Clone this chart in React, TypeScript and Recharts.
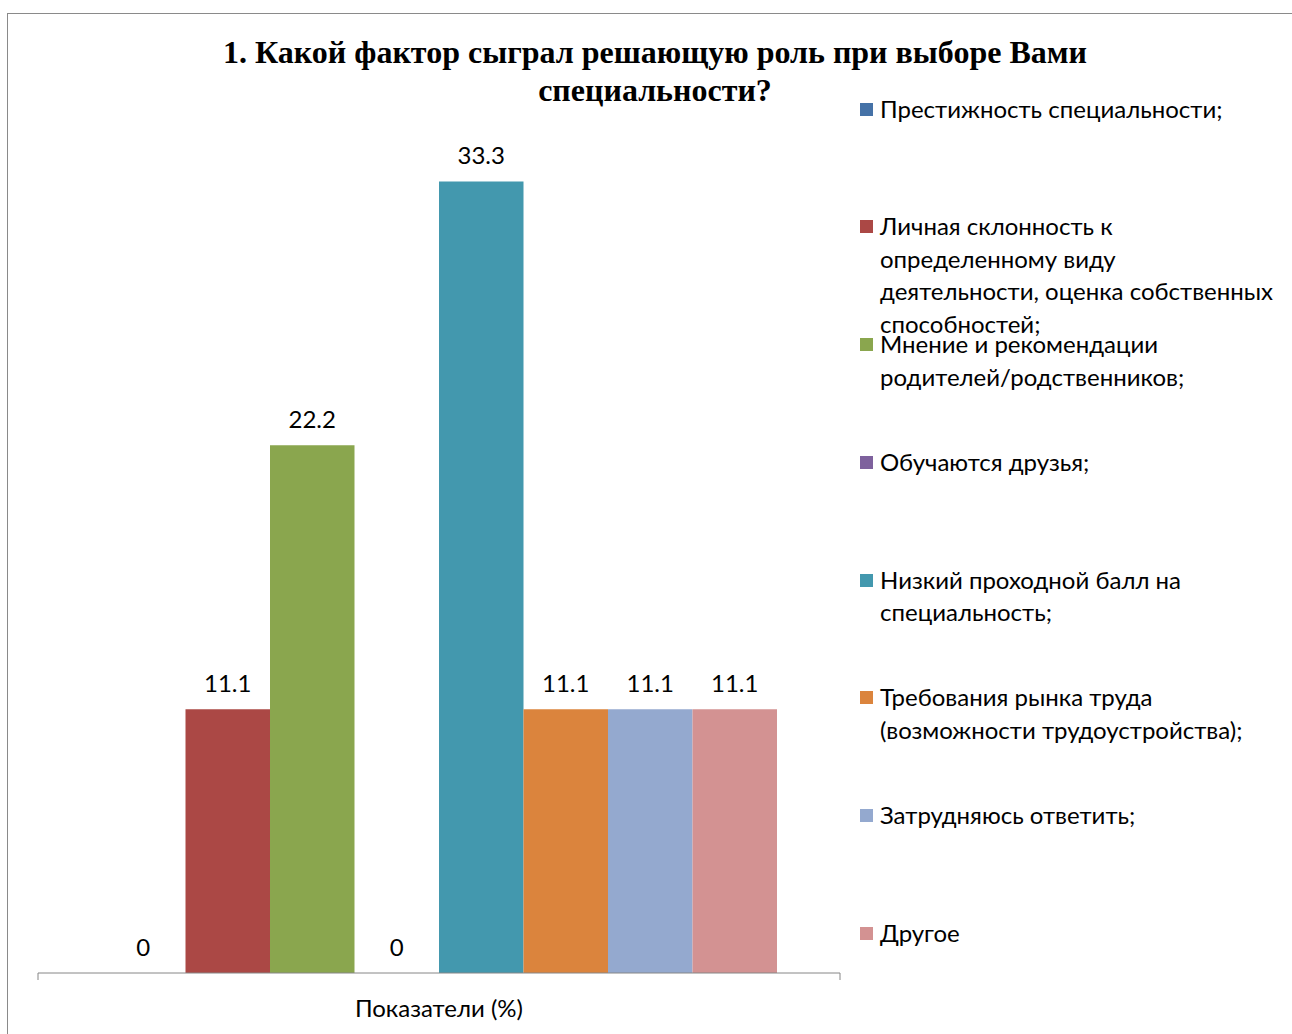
import React from 'react';
import { BarChart, Bar, XAxis, YAxis, LabelList, Legend } from 'recharts';

const titleLines = ['1. Какой фактор сыграл решающую роль при выборе Вами', 'специальности?'];
const categories = ['Показатели (%)'];
const seriesNames = [
  'Престижность специальности;',
  'Личная склонность к определенному виду деятельности, оценка собственных способностей;',
  'Мнение и рекомендации родителей/родственников;',
  'Обучаются друзья;',
  'Низкий проходной балл на специальность;',
  'Требования рынка труда (возможности трудоустройства);',
  'Затрудняюсь ответить;',
  'Другое',
];
const seriesValues = [0, 11.1, 22.2, 0, 33.3, 11.1, 11.1, 11.1];
const seriesColors = ['#4572A7', '#AB4845', '#8AA64E', '#7E619D', '#4398AE', '#DB843D', '#94A9CF', '#D39292'];

const data = categories.map((name) => {
  const row: Record<string, string | number> = { name };
  seriesValues.forEach((v, i) => {
    row['s' + i] = v;
  });
  return row;
});

const FONT = "Lato, Carlito, 'Open Sans', sans-serif";
const CHART_W = 1284;
const CHART_H = 1020;

const AxisTick = (props: any) => {
  const { x, y, payload } = props;
  const off = payload && payload.offset ? payload.offset : 0;
  return (
    <g>
      {off > 0 && (
        <>
          <line x1={x - off} x2={x - off} y1={y} y2={y + 7} stroke="#868686" strokeWidth={1} />
          <line x1={x + off} x2={x + off} y1={y} y2={y + 7} stroke="#868686" strokeWidth={1} />
        </>
      )}
      <text x={x} y={y + 44} textAnchor="middle" fontSize={24} fontFamily={FONT} fill="#000">
        {payload.value}
      </text>
    </g>
  );
};

const LegendContent = () => (
  <div style={{ position: 'relative', width: 0, height: 0 }}>
    {seriesNames.map((n, i) => (
      <div
        key={n}
        style={{
          position: 'absolute',
          left: 0,
          top: 78.75 + i * 117.7,
          width: 430,
          fontFamily: FONT,
          fontSize: 24,
          lineHeight: '32.5px',
          color: '#000',
          textAlign: 'left',
        }}
      >
        <span
          style={{
            position: 'absolute',
            left: 0,
            top: 10,
            width: 13,
            height: 13,
            background: seriesColors[i],
          }}
        />
        <div style={{ marginLeft: 20, width: 398 }}>{n}</div>
      </div>
    ))}
  </div>
);

export default function App() {
  return (
    <div
      style={{
        position: 'fixed',
        left: 7,
        top: 13,
        width: CHART_W + 10,
        height: CHART_H + 10,
        borderTop: '1px solid #8a8a8a',
        borderLeft: '1px solid #8a8a8a',
        background: '#fff',
        overflow: 'hidden',
      }}
    >
      <div
        style={{
          position: 'absolute',
          left: 197,
          top: 19,
          width: 900,
          display: 'flex',
          flexDirection: 'column',
          alignItems: 'center',
          fontFamily: "'Liberation Serif', 'Times New Roman', serif",
          fontWeight: 'bold',
          fontSize: 32,
          lineHeight: '38px',
          color: '#000',
          zIndex: 2,
          pointerEvents: 'none',
        }}
      >
        {titleLines.map((t) => (
          <span key={t} style={{ whiteSpace: 'nowrap' }}>
            {t}
          </span>
        ))}
      </div>
      <BarChart
        width={CHART_W}
        height={CHART_H}
        data={data}
        margin={{ top: 127, right: 452, bottom: 0, left: 30 }}
        barSize={84.5}
        barGap={0}
      >
        <XAxis
          dataKey="name"
          height={61}
          stroke="#868686"
          tickLine={false}
          tickSize={0}
          tickMargin={0}
          tick={<AxisTick />}
          interval={0}
        />
        <YAxis hide domain={[0, 35]} />
        <Legend
          content={<LegendContent />}
          wrapperStyle={{ left: 852, top: 0, width: 0, height: 0 }}
        />
        {seriesNames.map((n, i) => (
          <Bar
            key={n}
            dataKey={'s' + i}
            name={n}
            fill={seriesColors[i]}
            minPointSize={0.01}
            isAnimationActive={false}
          >
            <LabelList
              dataKey={'s' + i}
              position="top"
              offset={17}
              fill="#000"
              fontSize={24}
              fontFamily={FONT}
            />
          </Bar>
        ))}
      </BarChart>
    </div>
  );
}
